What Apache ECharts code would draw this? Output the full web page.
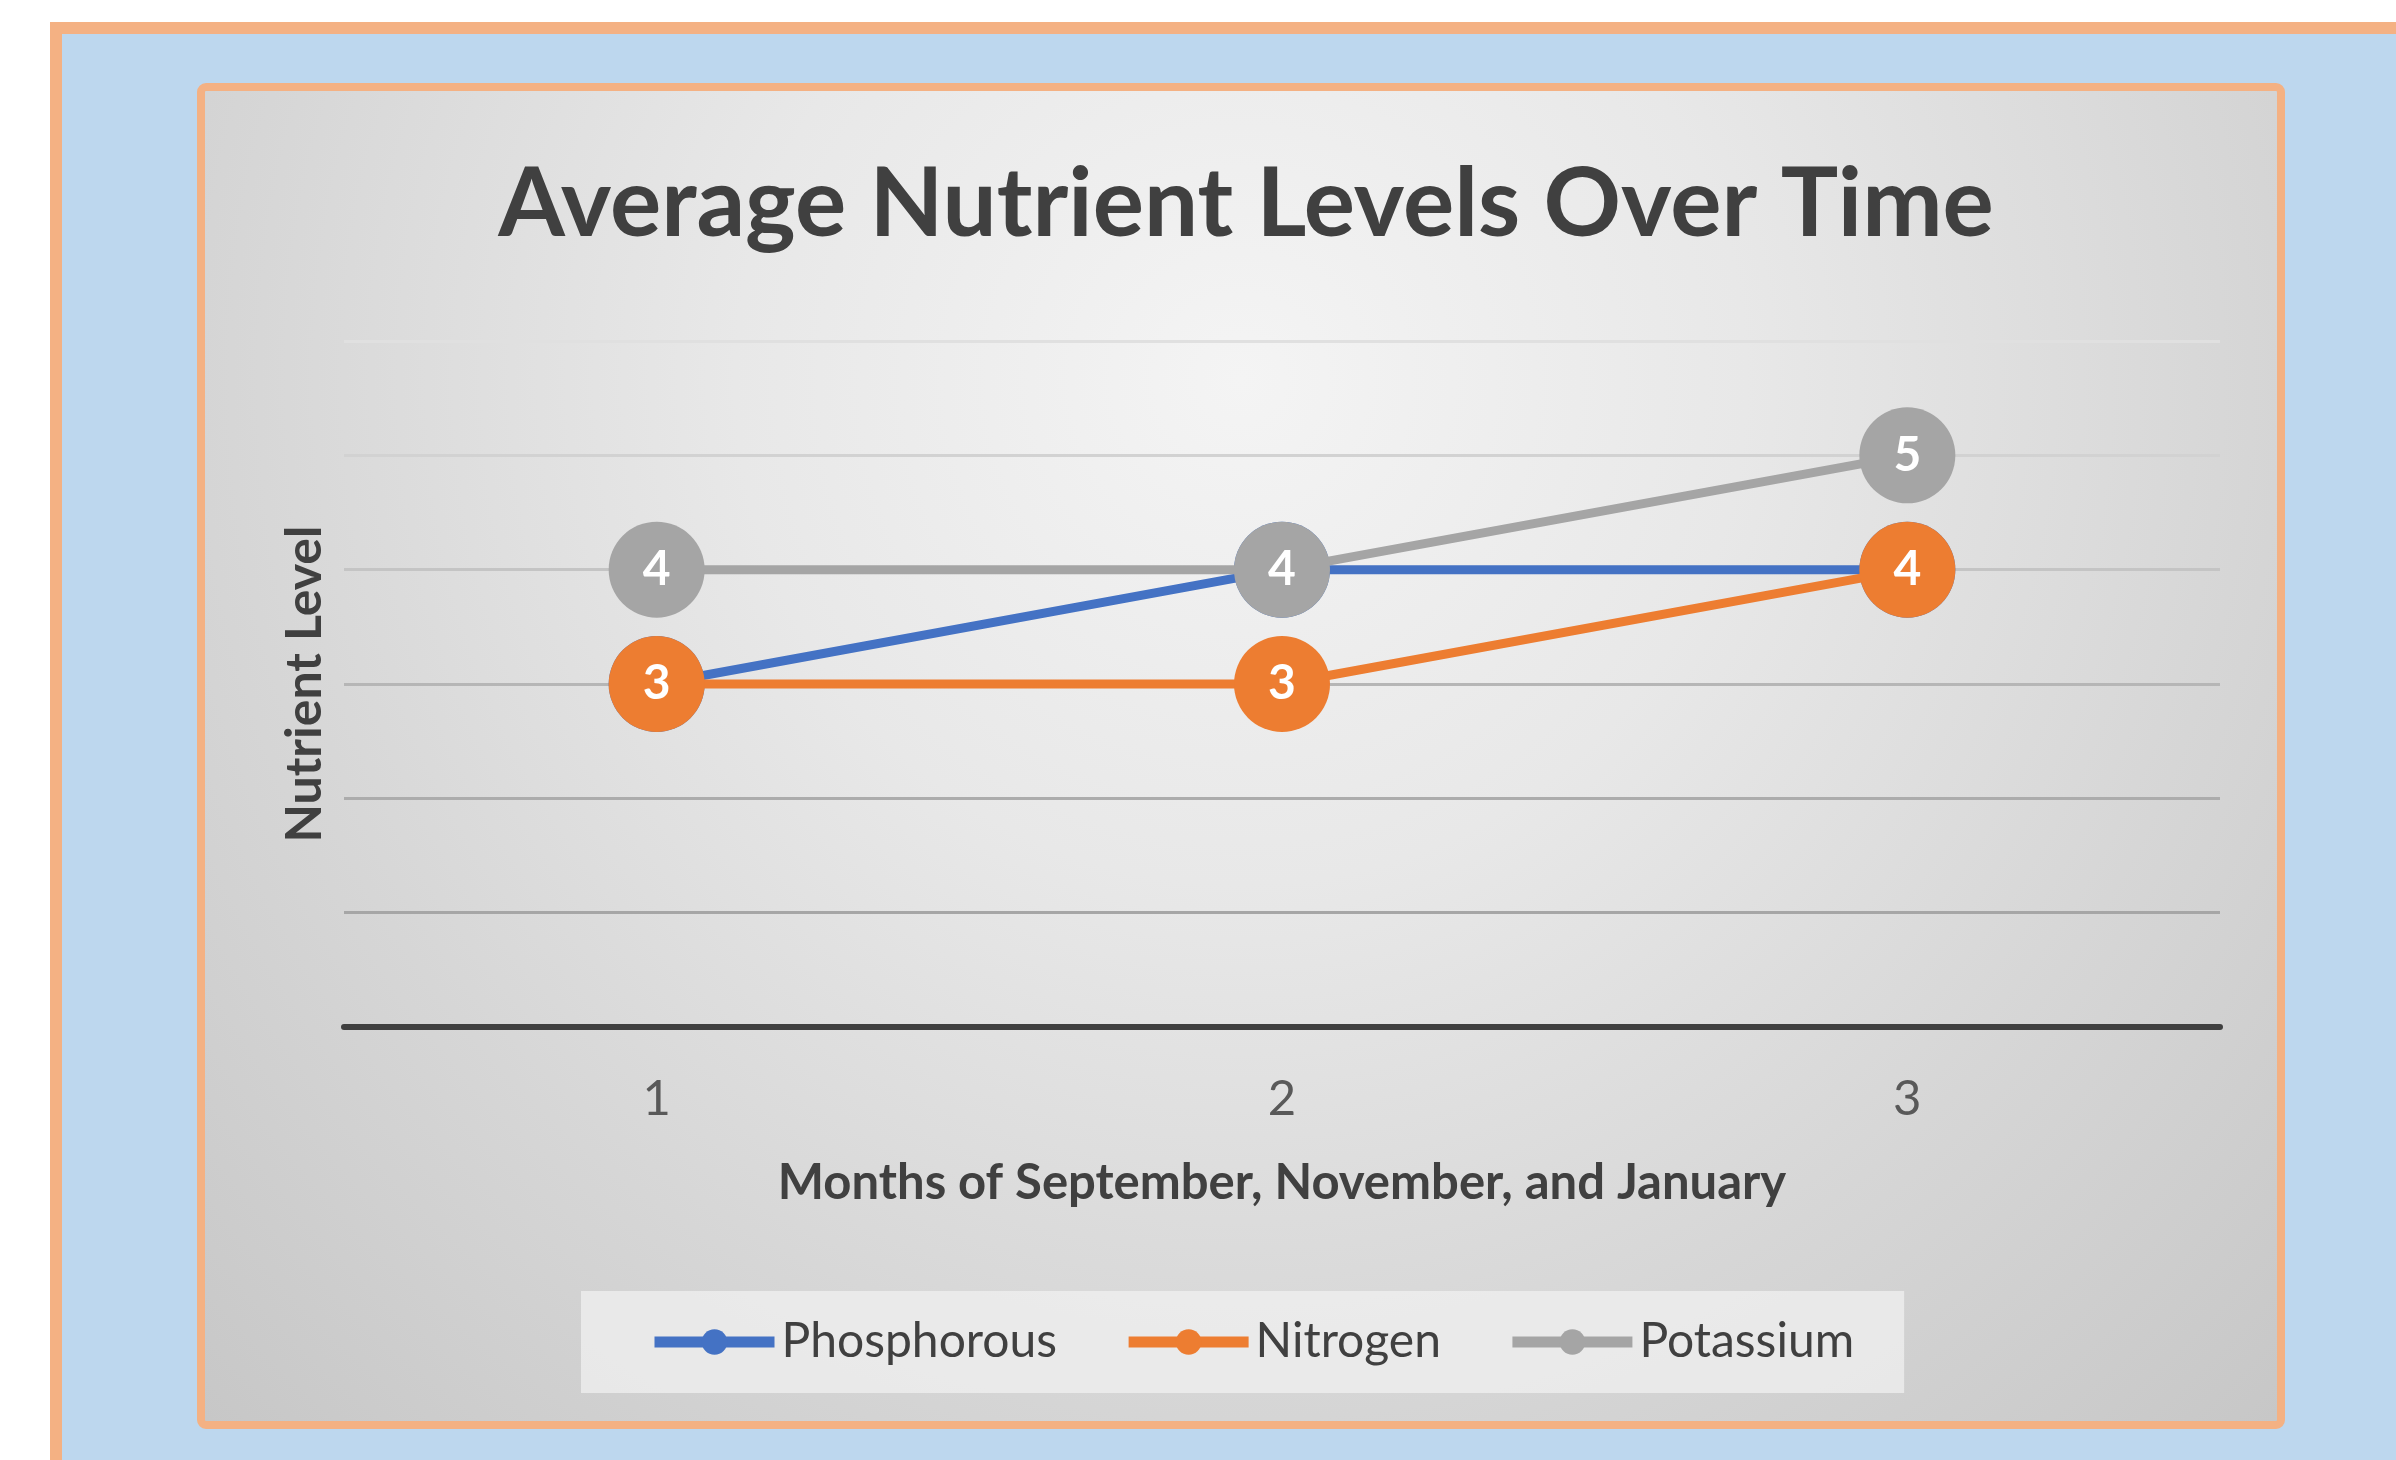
<!DOCTYPE html>
<html>
<head>
<meta charset="utf-8">
<style>
  html, body { margin: 0; padding: 0; background: #ffffff; }
  #chart { width: 2396px; height: 1460px; }
</style>
<script src="https://cdn.jsdelivr.net/npm/echarts@6.0.0/dist/echarts.min.js"></script>
</head>
<body>
<div id="chart"></div>
<script>
const titleText = 'Average Nutrient Levels Over Time';
const xAxisName = 'Months of September, November, and January';
const yAxisName = 'Nutrient Level';
const categories = ['1', '2', '3'];
const seriesNames = ['Phosphorous', 'Nitrogen', 'Potassium'];
const phosphorous = [3, 4, 4];
const nitrogen = [3, 3, 4];
const potassium = [4, 4, 5];
const yMin = 0;
const yMax = 6;
const yInterval = 1;

const FONT = 'Lato, "Open Sans", sans-serif';
const colors = ['#4472C4', '#ED7D31', '#A5A5A5'];
const seriesValues = [phosphorous, nitrogen, potassium];

const chart = echarts.init(document.getElementById('chart'), null, { renderer: 'canvas' });

const series = seriesNames.map((name, i) => ({
  name: name,
  type: 'line',
  data: seriesValues[i],
  z: 2 + i,
  symbol: 'circle',
  symbolSize: 96,
  color: colors[i],
  lineStyle: { width: 9, color: colors[i] },
  itemStyle: { color: colors[i] },
  label: {
    show: true,
    position: 'inside',
    color: '#ffffff',
    fontFamily: FONT,
    fontWeight: 'bold',
    fontSize: 48
  },
  emphasis: { disabled: true }
}));

chart.setOption({
  animation: false,
  graphic: [
    {
      type: 'rect',
      z: -20,
      silent: true,
      shape: { x: 56, y: 28, width: 2420, height: 1500 },
      style: { fill: '#BDD7EE', stroke: '#F4B183', lineWidth: 12 }
    },
    {
      type: 'rect',
      z: -19,
      silent: true,
      shape: { x: 201, y: 87, width: 2080, height: 1338, r: 5 },
      style: {
        fill: {
          type: 'radial', x: 0.5, y: 0.22, r: 1.25,
          colorStops: [
            { offset: 0, color: '#F4F4F4' },
            { offset: 0.3, color: '#E8E8E8' },
            { offset: 0.6, color: '#D6D6D6' },
            { offset: 1, color: '#C0C0C0' }
          ]
        },
        stroke: '#F4B183',
        lineWidth: 8
      }
    }
  ],
  title: {
    text: titleText,
    left: 1241,
    top: 152,
    textAlign: 'center',
    textStyle: {
      fontFamily: FONT,
      fontWeight: 'bold',
      fontSize: 96,
      color: '#404040'
    }
  },
  legend: {
    data: seriesNames,
    left: 581,
    top: 1291,
    itemWidth: 120,
    itemHeight: 32,
    itemGap: 66,
    padding: [27, 50, 27, 68],
    backgroundColor: 'rgba(240,240,240,0.75)',
    lineStyle: { width: 11 },
    textStyle: {
      fontFamily: FONT,
      fontSize: 48,
      color: '#404040',
      padding: [0, 0, 0, 2]
    }
  },
  grid: {
    left: 344,
    right: 176,
    top: 341,
    bottom: 433,
    containLabel: false
  },
  xAxis: {
    type: 'category',
    data: categories,
    boundaryGap: true,
    axisLine: { show: true, lineStyle: { color: '#404040', width: 6 } },
    axisTick: { show: false },
    axisLabel: {
      margin: 48,
      fontFamily: FONT,
      fontSize: 49,
      color: '#595959'
    },
    splitLine: { show: false },
    name: xAxisName,
    nameLocation: 'middle',
    nameGap: 132,
    nameTextStyle: {
      fontFamily: FONT,
      fontWeight: 'bold',
      fontSize: 49,
      color: '#404040'
    }
  },
  yAxis: {
    type: 'value',
    min: yMin,
    max: yMax,
    interval: yInterval,
    axisLine: { show: false },
    axisTick: { show: false },
    axisLabel: { show: false },
    splitLine: {
      show: true,
      lineStyle: {
        width: 3,
        color: ['#A0A0A0', '#A6A6A6', '#ACACAC', '#B6B6B6', '#C4C4C4', '#D2D2D2', '#E0E0E0']
      }
    },
    name: yAxisName,
    nameLocation: 'middle',
    nameGap: 14,
    nameTextStyle: {
      fontFamily: FONT,
      fontWeight: 'bold',
      fontSize: 50,
      color: '#404040'
    }
  },
  series: series
});
</script>
</body>
</html>
